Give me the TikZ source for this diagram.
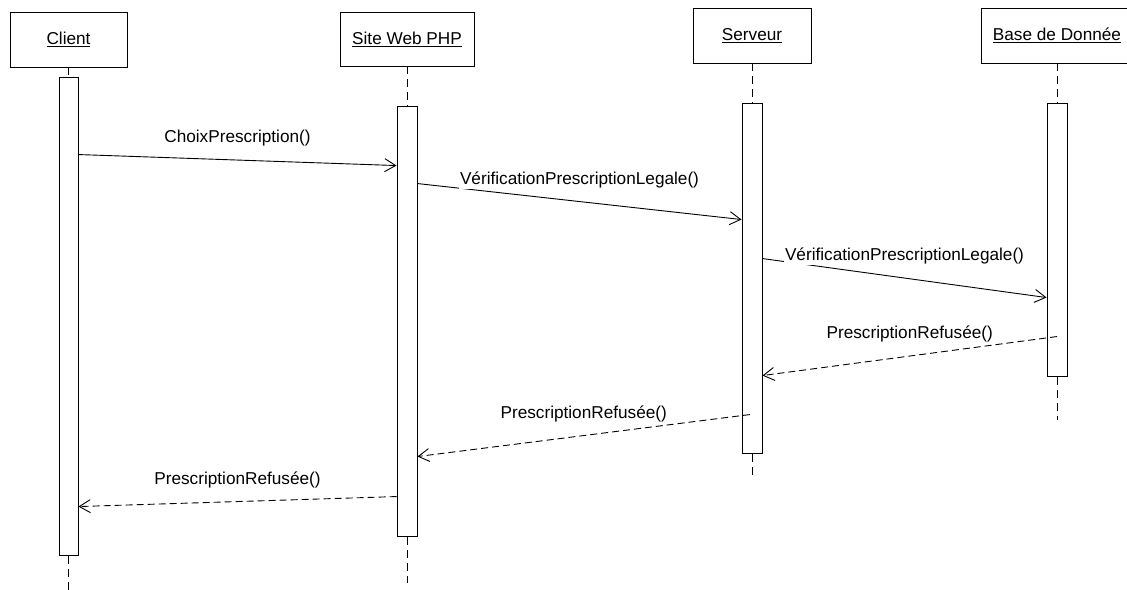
\documentclass[tikz,border=0pt]{standalone}
\usepackage{fontspec}
\setmainfont{Liberation Sans}
\usepackage{tikz}
\usetikzlibrary{positioning,calc,arrows.meta}

\tikzset{
  lifebox/.style={draw, line width=0.9pt, fill=white, inner sep=0pt},
  actbar/.style={draw, line width=0.9pt, minimum width=20pt, inner sep=0pt},
  lifeline/.style={line width=0.9pt, dash pattern=on 8pt off 5pt},
  call/.style={line width=0.9pt, -{Straight Barb[length=11pt,width=13pt]}},
  reply/.style={call, dash pattern=on 7pt off 4pt},
  msg/.style={midway, yshift=22pt, fill=white, inner sep=1pt}
}

\begin{document}
\begin{tikzpicture}[x=1pt, y=-1pt, font=\fontsize{17.2}{20}\selectfont]
        \useasboundingbox (0,0) rectangle (1127,589);
        \clip (0,0) rectangle (1127,589);
        % objects
        \node[lifebox, minimum width=117pt, minimum height=55pt] (client) at (68.5,39.5) {\underline{Client}};
        \node[lifebox, minimum width=134pt, minimum height=54pt] (web) at (407,39) {\underline{Site Web PHP}};
        \node[lifebox, minimum width=118pt, minimum height=55pt] (srv) at (752,35.5) {\underline{Serveur}};
        \node[lifebox, minimum width=152pt, minimum height=55pt] (db) at (1057,35.5) {\underline{Base de Donnée}};
        % activation bars
        \node[actbar, minimum width=19pt, minimum height=478pt] (cliAct) at (68.5,316) {};
        \node[actbar, minimum height=430pt] (webAct) at (407,321) {};
        \node[actbar, minimum height=350pt] (srvAct) at (752,278) {};
        \node[actbar, minimum height=273pt] (dbAct) at (1057,239.5) {};
        % lifelines
        \coordinate (cliEnd) at (68.5,592);
        \coordinate (webEnd) at (407,583);
        \coordinate (srvEnd) at (752,477);
        \coordinate (dbEnd) at (1057,420);
        \draw[lifeline] (client.south) -- (cliAct.north);
        \draw[lifeline] (web.south) -- (webAct.north);
        \draw[lifeline] (srv.south) -- (srvAct.north);
        \draw[lifeline] (db.south) -- (dbAct.north);
        \draw[lifeline] ([yshift=-1pt]cliAct.south) -- (cliEnd);
        \draw[lifeline] ([yshift=-1pt]webAct.south) -- (webEnd);
        \draw[lifeline] ([yshift=-1pt]srvAct.south) -- (srvEnd);
        \draw[lifeline] ([yshift=-1pt]dbAct.south) -- (dbEnd);
        % messages
        \draw[call] ([yshift=-78pt]cliAct.north east) -- ([yshift=-60pt]webAct.north west)
            node[msg] {ChoixPrescription()};
        \draw[call] ([yshift=-78pt]webAct.north east) -- ([yshift=-117pt]srvAct.north west)
            node[msg] {VérificationPrescriptionLegale()};
        \draw[call] ([yshift=-156pt]srvAct.north east) -- ([yshift=-195pt]dbAct.north west)
            node[msg] {VérificationPrescriptionLegale()};
        \draw[reply] ([yshift=-234pt]dbAct.north) -- ([yshift=-273pt]srvAct.north east)
            node[msg] {PrescriptionRefusée()};
        \draw[reply] ([xshift=-2pt,yshift=-312pt]srvAct.north) -- ([yshift=-351pt]webAct.north east)
            node[msg] {PrescriptionRefusée()};
        \draw[reply] ([yshift=-391pt]webAct.north west) -- ([yshift=-430pt]cliAct.north east)
            node[msg] {PrescriptionRefusée()};
    \end{tikzpicture}
\end{document}
